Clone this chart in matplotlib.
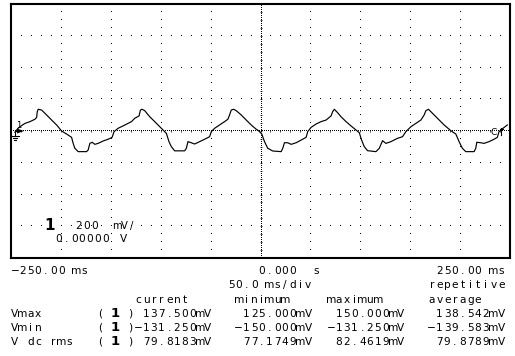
import numpy as np
import matplotlib
matplotlib.use("Agg")
import matplotlib.pyplot as plt

W, H = 515, 356

# captured trace: time in ms, voltage in mV
t_ms = [-246, -243, -241, -236, -231, -226, -224.3, -223.7, -222.7, -219.3, -214.3,
        -209.3, -204.3, -199.3, -194.3, -189.3, -187.7, -186, -182.7, -174.3, -172.7,
        -171, -168.7, -166, -162.7, -157.7, -152.7, -148.7, -146.7, -142.7, -137.7,
        -132.7, -129.3,
        -126, -121.7, -120.3, -118.7, -116, -111, -106, -101, -97.7, -94.3, -91.7,
        -89.3, -86, -76, -74.3, -72.7, -69.3, -66, -61, -56, -51, -49.3, -46, -41,
        -36, -32.7, -31, -29.3, -27, -24.3, -19.3, -14.3, -9.3, -4.3,
        -2, 1.3, 4, 7.3, 12.3, 20.7, 22.3, 24, 27.3, 30.7, 35.7, 40.7, 45.7, 47.3,
        50.7, 55.7, 60.7, 65.7, 70.7, 72.3, 74, 77.3, 80.7, 85.7, 90.7, 95.7, 99,
        101.3, 104, 107.3, 115.7, 119,
        122.3, 125.7, 130.7, 137.3, 142.3, 145.7, 150.7, 155.7, 160.7, 164, 165.7,
        168.3, 172.3, 177.3, 184, 190.7, 195.7, 199, 202.3, 205.7, 214, 215.7, 216.7,
        220.7, 224, 229, 234, 237.3, 239, 243, 247.3]
v_mv = [-8, 17, 27, 48, 59, 74, 86, 122, 137, 132, 101, 69, 38, 0, -19, -40, -78,
        -109, -130, -130, -120, -78, -71, -84, -78, -63, -52, -40, -4, 17, 32, 48, 59,
        80, 95, 132, 137, 128, 90, 59, 27, 6, -15, -67, -99, -125, -125, -109, -67,
        -74, -82, -67, -52, -36, -4, 17, 38, 59, 74, 101, 132, 137, 128, 101, 69, 38, 11,
        2, -19, -67, -109, -126, -130, -109, -74, -74, -84, -74, -57, -40, -4, 23, 44,
        59, 69, 95, 122, 137, 115, 90, 59, 32, 6, -11, -57, -99, -124, -130, -109,
        -61, -78, -67, -46, -36, -4, 27, 48, 69, 101, 128, 137, 112, 80, 38, 2, -19,
        -67, -109, -130, -130, -109, -71, -74, -78, -67, -52, -40, -4, 17, 38]

ms_per_div = 50
mv_per_div = 200

time_labels = ["\u2212250.00 ms", "0.000  s", "250.00 ms"]
timebase = "50.0 ms/div"
mode = "repetitive"
headers = ["current", "minimum", "maximum", "average"]
rows = ["Vmax", "Vmin", "V dc rms"]
values = [
    ["137.500mV", "125.000mV", "150.000mV", "138.542mV"],
    ["\u2212131.250mV", "\u2212150.000mV", "\u2212131.250mV", "\u2212139.583mV"],
    ["79.8183mV", "77.1749mV", "82.4619mV", "79.8789mV"],
]

fig = plt.figure(figsize=(W / 100, H / 100), dpi=100)
ax = fig.add_axes([11 / W, 1 - 258 / H, 499 / W, 254 / H])
ax.set_xlim(-5 * ms_per_div, 5 * ms_per_div)
ax.set_ylim(-4 * mv_per_div, 4 * mv_per_div)
ax.set_xticks([])
ax.set_yticks([])
for s in ax.spines.values():
    s.set_linewidth(1.5)
    s.set_color("black")

# graticule dots
for k in range(-4, 5):
    if k == 0:
        continue
    yy = np.arange(-800, 801, mv_per_div / 4)
    ax.plot(np.full_like(yy, k * ms_per_div), yy, ",", color="black")
for k in range(-3, 4):
    if k == 0:
        continue
    xx = np.arange(-250, 251, ms_per_div / 5)
    ax.plot(xx, np.full_like(xx, k * mv_per_div), ",", color="black")
# centre axes: dense dots plus minor ticks
xx = np.arange(-248, 250, 2)
ax.plot(xx, np.zeros_like(xx), ",", color="black")
ax.plot(np.arange(-240, 241, 10), np.zeros(49), "|", color="black", ms=1.8, mew=0.5)
yy = np.linspace(-800, 800, 128)
ax.plot(np.zeros_like(yy), yy, ",", color="black")
ax.plot(np.zeros(31), np.arange(-750, 751, 50), "_", color="black", ms=1.8, mew=0.5)

ax.plot(t_ms, v_mv, color="black", lw=0.85, clip_on=False)

# overlay in pixel coordinates for markers and text
ov = fig.add_axes([0, 0, 1, 1])
ov.set_xlim(0, W)
ov.set_ylim(H, 0)
ov.axis("off")

# channel 1 ground marker
ov.text(18.5, 128, "1", fontsize=6, ha="center", va="baseline")
ov.plot([15, 15], [130, 136], color="black", lw=0.8)
ov.plot([11, 19], [136, 136], color="black", lw=0.8)
ov.plot([13, 17], [138, 138], color="black", lw=0.8)
ov.plot([14.3, 15.7], [140, 140], color="black", lw=0.8)
ov.fill([17, 24, 17], [128.5, 131, 133.5], color="black", lw=0)
ov.plot([15, 18], [131, 131], color="black", lw=0.8)
# trigger marker at right
ov.text(494, 135, "C", fontsize=6.5, ha="center", va="baseline")
ov.plot([501, 501], [128, 135], color="black", lw=0.8)
ov.plot([499.5, 502.5], [129, 129], color="black", lw=0.8)

FONT = "DejaVu Sans"
X0, P = 11, 7.72   # left margin and character pitch of the readout


def cells(s, x, y, pitch=P, size=7.6, weight="normal"):
    for i, ch in enumerate(s):
        if ch != " ":
            ov.text(x + (i + 0.5) * pitch, y, ch, ha="center", va="baseline",
                    fontsize=size, family=FONT, fontweight=weight)


def col(c):
    return X0 + c * P


# scale readout inside the graticule
ov.text(50, 230, "1", fontsize=11, fontweight="bold", ha="center", va="baseline")
cells("200", 75, 229)
cells("mV/", 113, 229, pitch=7.6, size=7.2)
cells("0.00000", 55, 242)
cells("V", 120, 242)

# time labels
cells(time_labels[0], col(0), 274)
cells(time_labels[1], col(32), 274)
cells(time_labels[2], col(64 - len(time_labels[2])), 274)
cells(timebase, col(28), 288)
cells(mode, col(54), 288)

# measurement table
field_col = [16, 29, 41, 54]
for h, c in zip(headers, field_col):
    cells(h, col(c), 303)
row_y = [317, 331, 345]
for name, vals, y in zip(rows, values, row_y):
    cells(name, col(0), y)
    cells("(", col(11), y)
    ov.text(col(13) + P / 2, y, "1", fontsize=9.5, fontweight="bold",
            ha="center", va="baseline")
    cells(")", col(15), y)
    for v, c in zip(vals, field_col):
        cells(v, col(c + 10 - len(v)), y)

fig.savefig("out.png", dpi=100)
